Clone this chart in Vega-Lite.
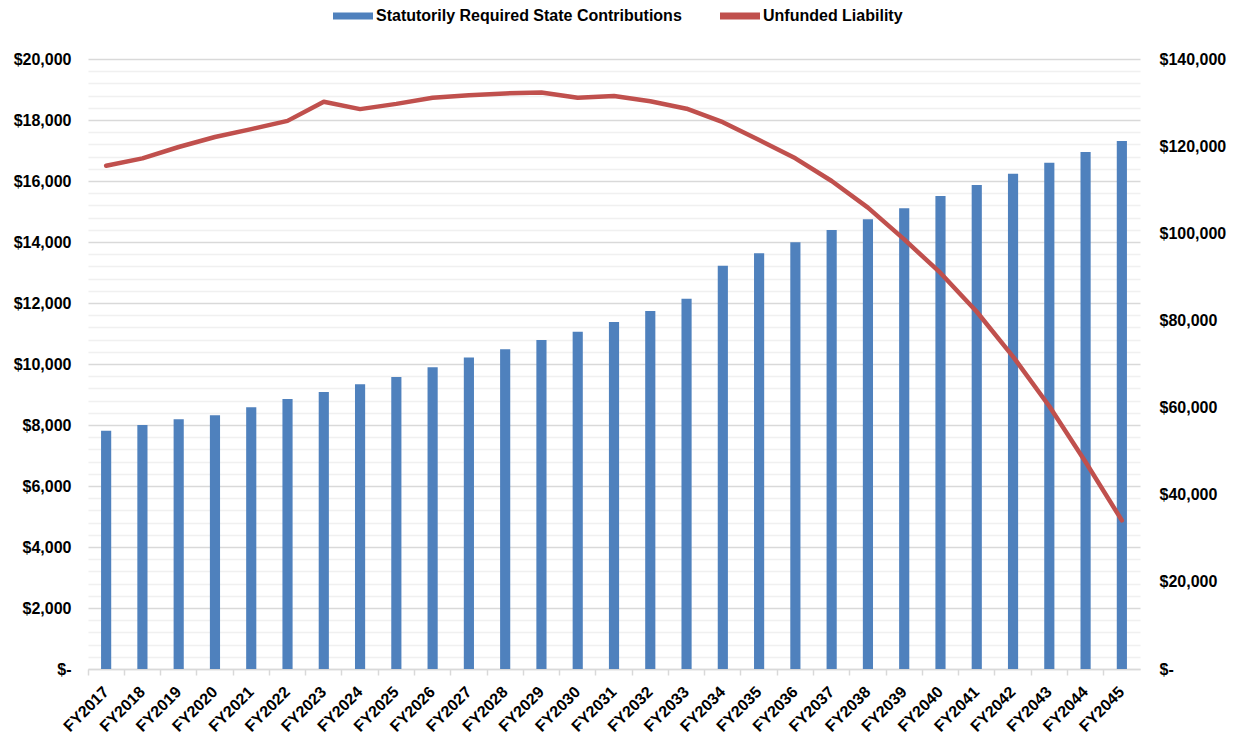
{
  "$schema": "https://vega.github.io/schema/vega-lite/v6.json",
  "width": 1052,
  "height": 610,
  "autosize": {"type": "none"},
  "padding": {"left": 88, "top": 59, "right": 101, "bottom": 65},
  "background": "white",
  "config": {"view": {"stroke": null}, "font": "Liberation Sans"},
  "data": {"values": [
    {"year": "FY2017", "contributions": 7810, "liability": 115500},
    {"year": "FY2018", "contributions": 8000, "liability": 117200},
    {"year": "FY2019", "contributions": 8190, "liability": 119800},
    {"year": "FY2020", "contributions": 8320, "liability": 122100},
    {"year": "FY2021", "contributions": 8580, "liability": 123900},
    {"year": "FY2022", "contributions": 8850, "liability": 125800},
    {"year": "FY2023", "contributions": 9080, "liability": 130200},
    {"year": "FY2024", "contributions": 9340, "liability": 128500},
    {"year": "FY2025", "contributions": 9570, "liability": 129700},
    {"year": "FY2026", "contributions": 9890, "liability": 131100},
    {"year": "FY2027", "contributions": 10210, "liability": 131700},
    {"year": "FY2028", "contributions": 10480, "liability": 132100},
    {"year": "FY2029", "contributions": 10790, "liability": 132300},
    {"year": "FY2030", "contributions": 11060, "liability": 131100},
    {"year": "FY2031", "contributions": 11380, "liability": 131500},
    {"year": "FY2032", "contributions": 11740, "liability": 130300},
    {"year": "FY2033", "contributions": 12140, "liability": 128600},
    {"year": "FY2034", "contributions": 13220, "liability": 125500},
    {"year": "FY2035", "contributions": 13630, "liability": 121400},
    {"year": "FY2036", "contributions": 13990, "liability": 117200},
    {"year": "FY2037", "contributions": 14390, "liability": 112000},
    {"year": "FY2038", "contributions": 14750, "liability": 105900},
    {"year": "FY2039", "contributions": 15110, "liability": 98600},
    {"year": "FY2040", "contributions": 15510, "liability": 90900},
    {"year": "FY2041", "contributions": 15870, "liability": 82000},
    {"year": "FY2042", "contributions": 16240, "liability": 71700},
    {"year": "FY2043", "contributions": 16600, "liability": 60300},
    {"year": "FY2044", "contributions": 16950, "liability": 47500},
    {"year": "FY2045", "contributions": 17310, "liability": 34100}
  ]},
  "layer": [
    {
      "mark": {"type": "bar", "width": {"band": 0.28}},
      "encoding": {
        "x": {
          "field": "year", "type": "nominal", "sort": null,
          "scale": {"paddingInner": 0, "paddingOuter": 0},
          "axis": {
            "orient": "bottom", "title": null, "labelAngle": -45, "labelAlign": "right", "labelBaseline": "middle",
            "labelFont": "Liberation Sans", "labelFontSize": 16, "labelFontWeight": "bold", "labelColor": "#000000",
            "labelPadding": 20, "ticks": false, "domain": true, "domainColor": "#d9d9d9", "domainWidth": 1.5, "grid": false
          }
        },
        "y": {
          "field": "contributions", "type": "quantitative",
          "scale": {"domain": [0, 20000], "nice": false},
          "axis": {
            "orient": "left", "title": null,
            "values": [0,400,800,1200,1600,2000,2400,2800,3200,3600,4000,4400,4800,5200,5600,6000,6400,6800,7200,7600,8000,8400,8800,9200,9600,10000,10400,10800,11200,11600,12000,12400,12800,13200,13600,14000,14400,14800,15200,15600,16000,16400,16800,17200,17600,18000,18400,18800,19200,19600,20000],
            "labelExpr": "datum.value % 2000 === 0 ? (datum.value === 0 ? '$-' : '$' + format(datum.value, ',')) : ''",
            "labelOverlap": false, "labelFont": "Liberation Sans", "labelFontSize": 16, "labelFontWeight": "bold", "labelColor": "#000000",
            "labelPadding": 17, "ticks": false, "domain": false,
            "grid": true,
            "gridColor": {"condition": {"test": "datum.value % 2000 === 0", "value": "#d9d9d9"}, "value": "#f0f0f0"},
            "gridWidth": 1.3
          }
        },
        "color": {
          "datum": "Statutorily Required State Contributions", "type": "nominal",
          "scale": {"domain": ["Statutorily Required State Contributions", "Unfunded Liability"], "range": ["#4F81BD", "#C0504D"]},
          "legend": {
            "title": null, "orient": "none", "direction": "horizontal", "legendX": 245, "legendY": -63,
            "symbolType": "M-1,-0.17H1V0.17H-1Z", "symbolSize": 1600, "symbolStrokeWidth": 0,
            "labelFont": "Liberation Sans", "labelFontSize": 16, "labelFontWeight": "bold", "labelColor": "#000000",
            "labelLimit": 500, "labelOffset": 3, "columnPadding": 38
          }
        }
      }
    },
    {
      "mark": {"type": "line", "strokeWidth": 4.5, "strokeCap": "round", "strokeJoin": "round"},
      "encoding": {
        "x": {
          "field": "year", "type": "nominal", "sort": null,
          "axis": {
            "orient": "bottom", "title": null, "labels": false, "ticks": true, "tickSize": 6, "tickColor": "#d9d9d9", "tickWidth": 1.5,
            "bandPosition": 0, "domain": false, "grid": false
          }
        },
        "y": {
          "field": "liability", "type": "quantitative",
          "scale": {"domain": [0, 140000], "nice": false},
          "axis": {
            "orient": "right", "title": null,
            "values": [0, 20000, 40000, 60000, 80000, 100000, 120000, 140000],
            "labelExpr": "datum.value === 0 ? '$-' : '$' + format(datum.value, ',')",
            "labelOverlap": false, "labelFont": "Liberation Sans", "labelFontSize": 16, "labelFontWeight": "bold", "labelColor": "#000000",
            "labelPadding": 19, "ticks": false, "domain": false, "grid": false
          }
        },
        "color": {"datum": "Unfunded Liability", "type": "nominal"}
      }
    }
  ],
  "resolve": {"scale": {"y": "independent"}, "axis": {"x": "independent"}}
}
